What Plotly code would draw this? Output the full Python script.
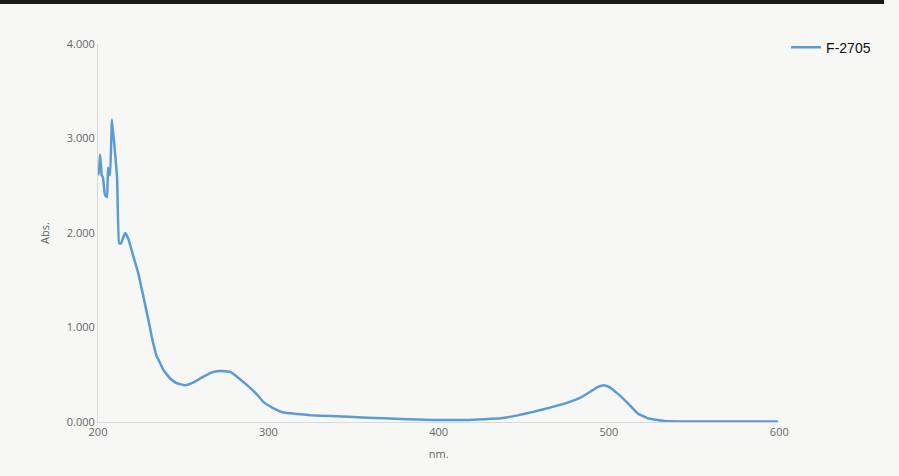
import plotly.graph_objects as go

wavelength_nm = [200.0, 200.6, 201.2, 202.2, 202.9, 204.1, 205.3, 205.9, 207.1, 208.2, 210.0, 211.2,
                 212.4, 213.5, 215.9, 217.8, 220.8, 223.7, 226.6, 229.6, 231.6, 234.5, 235.5, 238.4,
                 242.4, 246.3, 251.2, 256.1, 261.9, 267.8, 271.8, 277.6, 281.6, 287.5, 293.4, 297.2,
                 303.1, 309.0, 316.8, 324.7, 336.5, 358.1, 377.6, 397.2, 416.9, 436.5, 446.3, 456.1,
                 465.9, 475.7, 483.5, 489.0, 493.3, 497.0, 500.2, 505.1, 511.0, 516.9, 522.7, 532.5,
                 548.2, 577.6, 599.2]
absorbance = [2.61, 2.65, 2.83, 2.61, 2.59, 2.40, 2.38, 2.69, 2.61, 3.20, 2.85, 2.59,
              1.89, 1.89, 2.00, 1.94, 1.75, 1.57, 1.33, 1.08, 0.90, 0.69, 0.66, 0.55,
              0.46, 0.41, 0.39, 0.42, 0.48, 0.53, 0.54, 0.53, 0.48, 0.39, 0.29, 0.21,
              0.145, 0.10, 0.085, 0.072, 0.063, 0.046, 0.032, 0.022, 0.021, 0.039, 0.070, 0.11,
              0.155, 0.205, 0.26, 0.32, 0.37, 0.39, 0.37, 0.30, 0.20, 0.09, 0.04, 0.012,
              0.006, 0.005, 0.005]

x_ticks = [200, 300, 400, 500, 600]
y_ticks = [0, 1, 2, 3, 4]

fig = go.Figure()
fig.add_trace(go.Scatter(
    x=wavelength_nm, y=absorbance, mode="lines", name="F-2705",
    line=dict(color="#5b9bd5", width=2.5, shape="spline", smoothing=0.3),
))

# dark bar at the top of the image
fig.add_shape(type="rect", xref="paper", yref="paper",
              x0=-0.125, x1=0.995, y0=1.106, y1=1.118,
              fillcolor="#1a1a1a", line=dict(width=0), layer="above")

fig.update_layout(
    width=899, height=476, autosize=False,
    margin=dict(l=98, r=2, t=44, b=54),
    paper_bgcolor="#f7f8f6", plot_bgcolor="#f7f8f6",
    font=dict(family="Open Sans", color="#666666", size=11),
    showlegend=True,
    legend=dict(x=0.871, y=1.033, xanchor="left", yanchor="top",
                font=dict(family="Liberation Sans", size=14, color="#111111"),
                bgcolor="rgba(0,0,0,0)"),
    xaxis=dict(domain=[0, 0.8624], range=[200, 600], tickvals=x_ticks, showgrid=False,
               zeroline=False, showline=True, linecolor="#d9d9d9", linewidth=1, ticks="",
               title=dict(text="nm.", font=dict(size=11, color="#666666"), standoff=12)),
    yaxis=dict(range=[0, 4], tickvals=y_ticks, tickformat=".3f", showgrid=False,
               zeroline=False, showline=True, linecolor="#d9d9d9", linewidth=1, ticks="",
               title=dict(text="Abs.", font=dict(size=11, color="#666666"), standoff=14)),
)

fig.write_html("out.html",
               config={"displayModeBar": False, "responsive": False},
               post_script="document.body.style.margin='0';document.body.style.overflow='hidden';document.body.style.background='#f7f8f6';")
